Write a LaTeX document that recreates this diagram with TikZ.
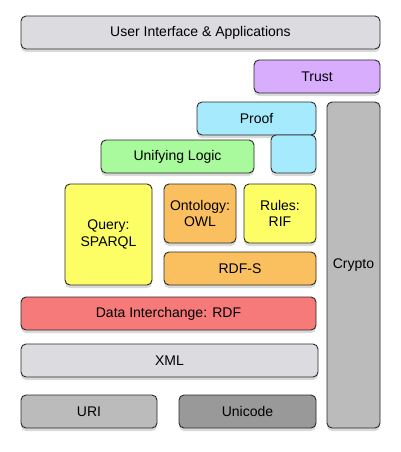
\documentclass[tikz,border=0pt]{standalone}
\usepackage{fontspec}
\setmainfont{Liberation Sans}
\usetikzlibrary{shadows}

\definecolor{layergrey}{HTML}{DCDBE0}
\definecolor{trustpurple}{HTML}{D8ADFD}
\definecolor{proofcyan}{HTML}{A6EBFD}
\definecolor{logicgreen}{HTML}{A8FA9C}
\definecolor{queryyellow}{HTML}{FDFD65}
\definecolor{owlorange}{HTML}{FAC05F}
\definecolor{rdfred}{HTML}{F67A7A}
\definecolor{urigrey}{HTML}{BBBBBB}
\definecolor{unigrey}{HTML}{999999}
\definecolor{edgegrey}{HTML}{2A2A2A}

\begin{document}
\begin{tikzpicture}[
    x=1pt,
    y=-1pt,
    font=\fontsize{14}{16.5}\selectfont,
    text centered
  ]

  \tikzstyle{layer} = [rectangle, draw=edgegrey, line width=0.9pt, rounded corners=5pt, align=center, inner sep=0, outer sep=0, drop shadow={shadow xshift=0pt, shadow yshift=-3pt, opacity=0.3}]

  \useasboundingbox (0,0) rectangle (400,452);

  % top of the stack
  \node [layer, fill=layergrey, minimum width=359pt, minimum height=33pt] (ui) at (200.5,32.5) {User Interface \& Applications};
  \node [layer, fill=trustpurple, minimum width=126pt, minimum height=33pt] (trust) at (317,76.5) {Trust};
  \node [layer, fill=proofcyan, minimum width=119pt, minimum height=33pt] (proof) at (256.5,118.5) {Proof};
  \node [layer, fill=proofcyan, minimum width=45pt, minimum height=38pt] (proofstep) at (293.5,154) {};
  \node [layer, fill=urigrey, minimum width=53pt, minimum height=326pt] (crypto) at (353.5,265) {Crypto};
  \node [layer, fill=logicgreen, minimum width=153pt, minimum height=33pt] (logic) at (177.5,156.5) {Unifying Logic};

  % middle layers
  \node [layer, fill=queryyellow, minimum width=87pt, minimum height=101pt] (query) at (108.5,234.5) {Query:\\SPARQL};
  \node [layer, fill=owlorange, minimum width=72pt, minimum height=59pt] (owl) at (200,213.5) {Ontology:\\OWL};
  \node [layer, fill=queryyellow, minimum width=72pt, minimum height=59pt] (rif) at (280,213.5) {Rules:\\RIF};
  \node [layer, fill=owlorange, minimum width=152pt, minimum height=33pt] (rdfs) at (240,268.5) {RDF-S};

  % base
  \node [layer, fill=rdfred, minimum width=295pt, minimum height=33pt] (rdf) at (168.5,313.5) {Data Interchange: RDF};
  \node [layer, fill=layergrey, minimum width=297pt, minimum height=33pt] (xml) at (169.5,360.5) {XML};
  \node [layer, fill=urigrey, minimum width=136pt, minimum height=33pt] (uri) at (89,411.5) {URI};
  \node [layer, fill=unigrey, minimum width=137pt, minimum height=33pt] (unicode) at (247.5,411.5) {Unicode};

\end{tikzpicture}
\end{document}
